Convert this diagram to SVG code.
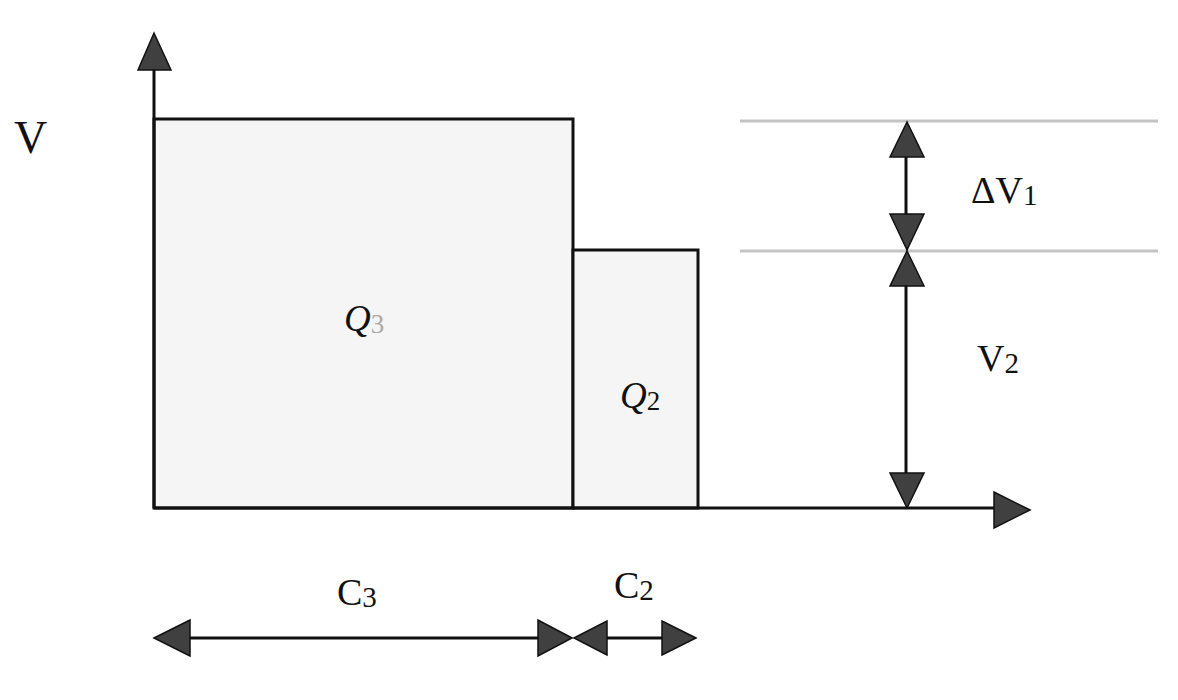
<svg xmlns="http://www.w3.org/2000/svg" width="1178" height="700" viewBox="0 0 1178 700">
<style>
.ln{stroke:#111;stroke-width:3;fill:none}
.ah{fill:#404040;stroke:#111;stroke-width:1.5;stroke-linejoin:miter}
.box{fill:#f5f5f5;stroke:#111;stroke-width:3}
.guide{stroke:#c4c4c4;stroke-width:3}
.t{font-family:"Liberation Serif","Times New Roman",serif;fill:#111}
.ti{font-family:"Liberation Serif","Times New Roman",serif;font-style:italic;fill:#111}
</style>
<rect width="1178" height="700" fill="#fff"/>
<g id="Q3">
<rect class="box" x="154" y="119" width="419" height="389"/>
<text class="ti" x="344" y="331" font-size="37">Q<tspan font-size="27" font-style="normal" fill="#aaa" dy="2">3</tspan></text>
</g>
<g id="Q2">
<rect class="box" x="573" y="250" width="125" height="258"/>
<text class="ti" x="620" y="408" font-size="37">Q<tspan font-size="27" font-style="normal" dy="2">2</tspan></text>
</g>
<g id="guides">
<line class="guide" x1="740" y1="121" x2="1158" y2="121"/>
<line class="guide" x1="740" y1="251" x2="1158" y2="251"/>
</g>
<g id="connectors">
<line class="ln" x1="154" y1="508" x2="154" y2="70"/>
<polygon class="ah" points="154,33 138,70 171,70"/>
<line class="ln" x1="154" y1="508" x2="994" y2="508"/>
<polygon class="ah" points="1030,510 994,492 994,528"/>
<line class="ln" x1="906" y1="157" x2="906" y2="214"/>
<polygon class="ah" points="907,122 890,157 924,157"/>
<polygon class="ah" points="907,250 890,214 924,214"/>
<line class="ln" x1="906" y1="286" x2="906" y2="473"/>
<polygon class="ah" points="907,251 890,286 924,286"/>
<polygon class="ah" points="907,508 890,473 924,473"/>
<line class="ln" x1="190" y1="638" x2="538" y2="638"/>
<polygon class="ah" points="154,638 190,620 190,656"/>
<polygon class="ah" points="572,638 538,620 538,656"/>
<line class="ln" x1="607" y1="638" x2="662" y2="638"/>
<polygon class="ah" points="574,638 607,621 607,655"/>
<polygon class="ah" points="696,638 662,621 662,655"/>
</g>
<g id="labels">
<text class="t" x="14" y="153" font-size="46">V</text>
<text class="t" x="971" y="203" font-size="38">ΔV<tspan font-size="29" dy="2">1</tspan></text>
<text class="t" x="977" y="371" font-size="38">V<tspan font-size="29" dy="2">2</tspan></text>
<text class="t" x="337" y="605" font-size="38">C<tspan font-size="29" dy="2">3</tspan></text>
<text class="t" x="614" y="598" font-size="38">C<tspan font-size="29" dy="2">2</tspan></text>
</g>
</svg>
